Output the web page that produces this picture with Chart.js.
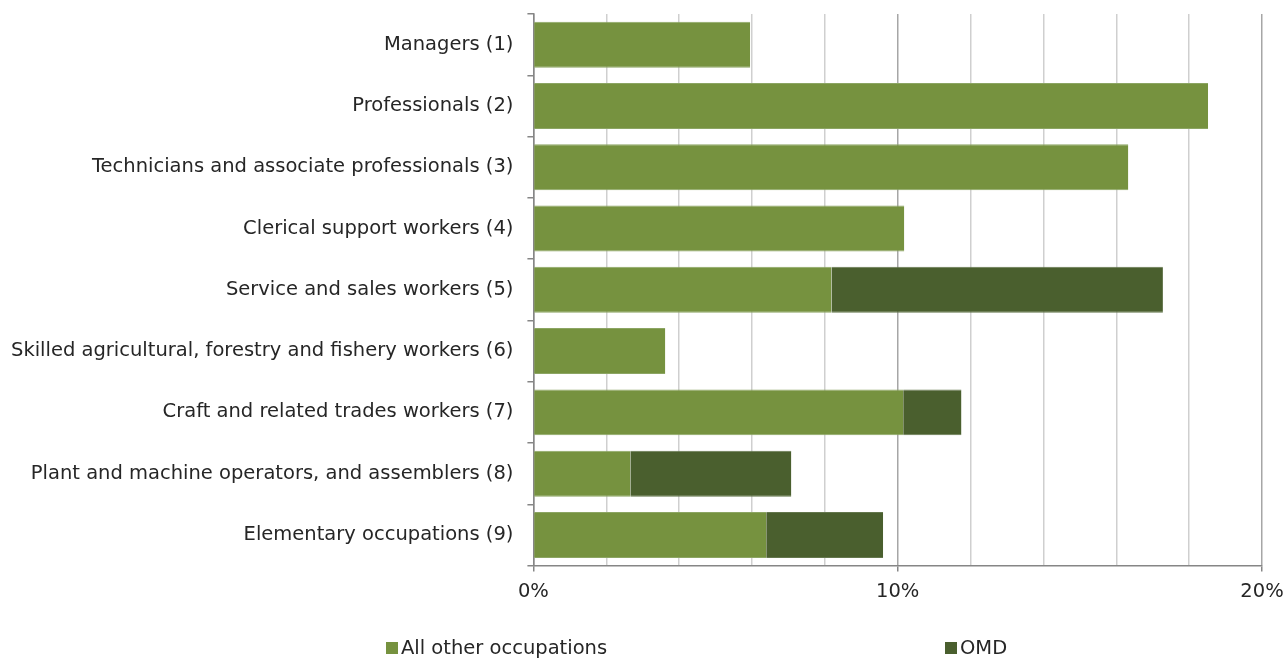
<!DOCTYPE html>
<html>
<head>
<meta charset="utf-8">
<script src="https://cdn.jsdelivr.net/npm/chart.js@4/dist/chart.umd.min.js"></script>
<style>
  html, body { margin: 0; padding: 0; background: #fff; }
  #wrap { position: relative; width: 1288px; height: 658px; }
  #legend { position: absolute; top: 637px; left: 0; width: 1288px; height: 22px;
            font-family: "DejaVu Sans", Verdana, sans-serif; font-size: 19.5px; color: #262626; }
  .item { position: absolute; top: 0; line-height: 22px; white-space: nowrap; }
  .box { display: inline-block; width: 12px; height: 12px; margin-right: 3px; vertical-align: 0px; }
</style>
</head>
<body>
<div id="wrap">
  <canvas id="chart" width="1288" height="658"></canvas>
  <div id="legend"></div>
</div>
<script>
const categories = [
  "Managers (1)",
  "Professionals (2)",
  "Technicians and associate professionals (3)",
  "Clerical support workers (4)",
  "Service and sales workers (5)",
  "Skilled agricultural, forestry and fishery workers (6)",
  "Craft and related trades workers (7)",
  "Plant and machine operators, and assemblers (8)",
  "Elementary occupations (9)"
];
const seriesNames = ["All other occupations", "OMD"];
const otherValues = [5.95, 18.52, 16.33, 10.18, 8.18, 3.62, 10.15, 2.66, 6.39];
const omdValues = [0, 0, 0, 0, 9.10, 0, 1.60, 4.42, 3.21];
const xTicks = [0, 10, 20];

const colors = ["#76923f", "#4a5f2e"];
const edges = ["#8ca563", "#64774d"];

Chart.defaults.color = "#262626";
Chart.defaults.font.family = '"DejaVu Sans", Verdana, sans-serif';
Chart.defaults.font.size = 19.5;

const ctx = document.getElementById("chart").getContext("2d");
let myChart = new Chart(ctx, {
  type: "bar",
  data: {
    labels: categories,
    datasets: [
      {
        label: seriesNames[0],
        data: otherValues,
        backgroundColor: colors[0],
        borderColor: edges[0],
        borderWidth: { top: 1, bottom: 1, left: 0, right: 0 },
        borderSkipped: false,
        categoryPercentage: 0.75,
        barPercentage: 1
      },
      {
        label: seriesNames[1],
        data: omdValues,
        backgroundColor: colors[1],
        borderColor: edges[1],
        borderWidth: { top: 1, bottom: 1, left: 0, right: 0 },
        borderSkipped: false,
        categoryPercentage: 0.75,
        barPercentage: 1
      }
    ]
  },
  options: {
    indexAxis: "y",
    responsive: false,
    animation: false,
    layout: { padding: { left: 11, right: 0, top: 14, bottom: 45 } },
    plugins: { legend: { display: false }, tooltip: { enabled: false } },
    scales: {
      x: {
        stacked: true,
        min: 0,
        max: 20,
        afterFit: (scale) => {
          // keep the plot's right edge where the original has it
          scale.paddingRight = 26;
        },
        ticks: {
          stepSize: 2,
          padding: 9,
          autoSkip: false,
          maxRotation: 0,
          callback: (v) => (xTicks.includes(v) ? v + "%" : "")
        },
        grid: {
          color: (c) => (c.tick && xTicks.includes(c.tick.value) ? "#a6a6a6" : "#cfcfcf"),
          tickColor: (c) => (c.tick && xTicks.includes(c.tick.value) ? "#868686" : "rgba(0,0,0,0)"),
          tickLength: 6,
          lineWidth: 1.5
        },
        border: { color: "#868686", width: 1.5 }
      },
      y: {
        stacked: true,
        afterFit: (scale) => {
          // no extra room above/below the first and last labels,
          // and no padding on the outer side of the labels
          scale.paddingTop = 0;
          scale.paddingBottom = 0;
          scale.width -= scale.options.ticks.padding;
        },
        ticks: { padding: 14 },
        grid: {
          offset: true,
          drawOnChartArea: false,
          tickLength: 6,
          tickColor: "#868686",
          lineWidth: 1.5
        },
        border: { color: "#868686", width: 1.5 }
      }
    }
  }
});

// legend laid out like the original spreadsheet legend
const legend = document.getElementById("legend");
const legendX = [386, 945];
seriesNames.forEach((name, i) => {
  const el = document.createElement("div");
  el.className = "item";
  el.style.left = legendX[i] + "px";
  el.innerHTML = '<span class="box" style="background:' + colors[i] + '"></span>' + name;
  legend.appendChild(el);
});
</script>
</body>
</html>
